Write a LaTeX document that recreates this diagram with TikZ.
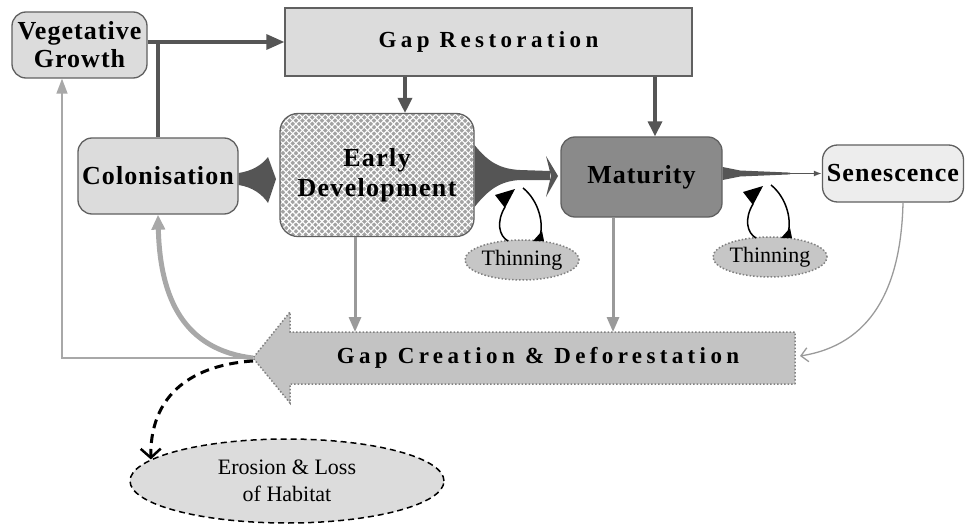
\documentclass[tikz,border=0pt]{standalone}
\usepackage{fontspec}
\setmainfont{Liberation Serif}
\usetikzlibrary{arrows.meta,patterns.meta,shapes.geometric,calc}
\definecolor{boxfill}{HTML}{DCDCDC}
\definecolor{boxline}{HTML}{606060}
\definecolor{senfill}{HTML}{EDEDED}
\definecolor{matfill}{HTML}{8A8A8A}
\definecolor{thinfill}{HTML}{C6C6C6}
\definecolor{gcfill}{HTML}{C3C3C3}
\definecolor{darkarr}{HTML}{555555}
\definecolor{grayarr}{HTML}{9A9A9A}
\definecolor{lightarr}{HTML}{A8A8A8}
\definecolor{patgray}{HTML}{A2A2A2}
\tikzset{
  stagebox/.style={draw=boxline, line width=1.3pt, fill=boxfill, rounded corners=14pt,
    inner sep=0pt, align=center,
    font=\fontsize{26}{28}\selectfont\bfseries\addfontfeatures{LetterSpace=4}},
  titlefont/.style={font=\fontsize{23}{25}\selectfont\bfseries\addfontfeatures{LetterSpace=19}},
  thinbox/.style={ellipse, draw=gray, dotted, line width=1.5pt, fill=thinfill, inner sep=0pt,
    minimum width=110pt, minimum height=40pt, font=\fontsize{22}{24}\selectfont},
  darkline/.style={draw=darkarr, line width=3.3pt},
  darkhead/.style={darkline, -{Triangle[length=18pt,width=15pt]}},
  grayhead/.style={draw=grayarr, line width=3pt, -{Triangle[length=15pt,width=12pt]}},
  loopline/.style={draw=black, line width=1.5pt},
}
\begin{document}
\begin{tikzpicture}[x=1pt,y=-1pt]
\useasboundingbox (0,0) rectangle (966,524);

% nodes
\node[stagebox, minimum width=135pt, minimum height=66pt] (veg) at (79.5,45) {Vegetative\\Growth};
\node[draw=boxline, line width=1.3pt, fill=boxfill, minimum width=407pt, minimum height=68pt,
      inner sep=0pt, titlefont] (gaprest) at (488.5,42) {Gap Restoration};
\node[stagebox, minimum width=160pt, minimum height=76pt] (colon) at (158,176) {Colonisation};
\node[stagebox, rounded corners=18pt, minimum width=194pt, minimum height=123pt,
      fill=none, preaction={fill=patgray},
      preaction={pattern={Lines[angle=45,distance=4.6pt,line width=1.1pt]}, pattern color=white},
      pattern={Lines[angle=-45,distance=4.6pt,line width=1.1pt]}, pattern color=white,
      font=\fontsize{26}{30}\selectfont\bfseries\addfontfeatures{LetterSpace=5}]
      (early) at (377,175) {Early\\Development};
\node[stagebox, fill=matfill, minimum width=161pt, minimum height=80pt] (mat) at (641.5,177) {Maturity};
\node[stagebox, fill=senfill, rounded corners=15pt, minimum width=141pt, minimum height=57pt] (sen) at (893,173.5) {Senescence};
\node[thinbox] (thinA) at (522,260) {Thinning};
\node[thinbox] (thinB) at (770,257) {Thinning};
\node[ellipse, draw=black, dash pattern=on 6pt off 4pt, line width=1.5pt, fill=boxfill,
      minimum width=314pt, minimum height=84pt, inner sep=0pt, align=center,
      font=\fontsize{22}{27}\selectfont] (erosion) at (287,481) {Erosion \& Loss\\of Habitat};

% gap creation arrow shape
\coordinate (gcTip) at (253,358);
\coordinate (gcNW) at (290,332);
\coordinate (gcSE) at (795,384);
\draw[draw=gray, dotted, line width=1.5pt, fill=gcfill]
  (gcSE) -- (gcSE |- gcNW) -- (gcNW) -- (290,312) -- (gcTip) -- (290,403) -- (gcNW |- gcSE) -- cycle;
\node[titlefont] (gapcr) at (538,358) {Gap Creation \& Deforestation};

% dark connectors
\coordinate (j1) at (158,42);
\draw[darkhead] (veg.east |- j1) -- (gaprest.west |- j1);
\draw[darkline] (j1) -- (colon.north);
\draw[darkhead, -{Triangle[length=15pt,width=14pt]}] (405,0 |- gaprest.south) -- (405,0 |- early.north);
\draw[darkhead, -{Triangle[length=15pt,width=14pt]}] (655,0 |- gaprest.south) -- (655,0 |- mat.north);

% colonisation -> early development wedge
\fill[darkarr] (colon.east |- 0,173) .. controls (252,171) and (262,165) .. (268,157)
  -- (276,179) -- (268,203) .. controls (262,194) and (252,187) .. (colon.east |- 0,185) -- cycle;

% early development -> maturity flare
\fill[darkarr] (early.east |- 0,145) .. controls (488,162) and (500,169) .. (520,170)
  -- (550,171) -- (550,180) -- (520,180) .. controls (500,181) and (488,190) .. (early.east |- 0,207) -- cycle;
\fill[darkarr] (546,156) -- (558,176) -- (546,197) -- (551,176) -- cycle;

% maturity -> senescence taper
\fill[darkarr] (mat.east |- 0,167) -- (740,170.5) -- (790,172.6) -- (790,174.4) -- (740,176.5) -- (mat.east |- 0,180) -- cycle;
\draw[draw=darkarr, line width=1.5pt, -{Latex[length=8pt,width=6pt]}] (mat.east |- 0,173.5) -- (sen.west |- 0,173.5);

% thinning loops
\draw[loopline] (505,207) .. controls (496,222) and (499,236) .. (508,241);
\fill (495,195) -- (515,189) -- (505,208) -- cycle;
\draw[loopline] (523,188) .. controls (538,200) and (544,222) .. (540,236);
\fill (533,241) -- (544,241) -- (542,231) -- cycle;
\begin{scope}[shift={(248,-3)}]
\draw[loopline] (505,207) .. controls (496,222) and (499,236) .. (508,241);
\fill (495,195) -- (515,189) -- (505,208) -- cycle;
\draw[loopline] (523,188) .. controls (538,200) and (544,222) .. (540,236);
\fill (533,241) -- (544,241) -- (542,231) -- cycle;
\end{scope}

% gray connectors down to gap creation
\draw[grayhead] (355,0 |- early.south) -- (355,0 |- gcNW);
\draw[grayhead] (613,0 |- mat.south) -- (613,0 |- gcNW);
\draw[draw=grayarr, line width=1.3pt, -{Straight Barb[length=7pt,width=14pt,line width=1.3pt]}]
  ([xshift=10pt]sen.south) .. controls (901,290) and (870,345) .. (800,356);

% gap creation -> colonisation and vegetative growth
\draw[draw=lightarr, line width=5pt, -{Triangle[length=15pt,width=13pt]}]
  (gcTip) .. controls (185,350) and (160,300) .. (colon.south);
\draw[draw=lightarr, line width=1.6pt, -{Triangle[length=15pt,width=11pt]}]
  (gcTip) -- (62,0 |- gcTip) -- (62,0 |- veg.south);

% gap creation -> erosion (dashed)
\draw[black, line width=3pt, dash pattern=on 9pt off 6pt,
      -{Straight Barb[length=9pt,width=20pt,line width=2.5pt]}]
  ([yshift=-3pt]gcTip) .. controls (205,364) and (150,385) .. (erosion.171);
\end{tikzpicture}
\end{document}
